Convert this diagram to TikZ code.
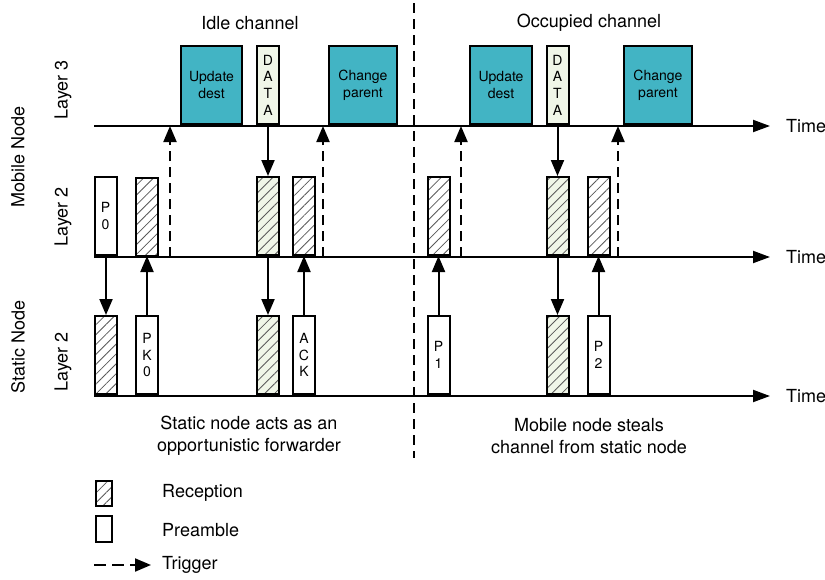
\documentclass[tikz,border=0pt]{standalone}
\usepackage{fontspec}
\setmainfont{TeX Gyre Heros}
\usepackage{xcolor}
\usepackage{tikz}
\usetikzlibrary{positioning,arrows.meta,patterns.meta}

\definecolor{taskteal}{RGB}{66,180,196}
\definecolor{datagreen}{RGB}{240,246,232}

\tikzset{
  slot/.style={draw, line width=2pt, anchor=south, minimum width=22pt, minimum height=78pt,
    inner sep=0pt, align=center, font=\fontsize{14}{16.7}\selectfont},
  preamble/.style={slot, fill=white},
  recv/.style={slot, preaction={fill=white},
    pattern={Lines[angle=45,distance=7pt,line width=0.8pt]}, pattern color=black!65},
  recvdata/.style={recv, preaction={fill=datagreen}},
  task/.style={slot, fill=taskteal},
  timeaxis/.style={line width=2pt, -{Triangle[length=17pt,width=12pt]}},
  msg/.style={line width=2pt, -{Triangle[length=16pt,width=13pt]}},
  trigger/.style={msg, dash pattern=on 10pt off 6pt},
}

\begin{document}
\begin{tikzpicture}[x=1pt,y=-1pt,font=\fontsize{18}{22}\selectfont]
\useasboundingbox (0,0) rectangle (825,579);

% Row labels
\node[rotate=90] (mobile) at (18,157) {Mobile Node};
\node[rotate=90] (static) at (18,347) {Static Node};
\node[rotate=90] (lay3) at (63,90) {Layer 3};
\node[rotate=90] (lay2m) at (63,217) {Layer 2};
\node[rotate=90] (lay2s) at (63,362) {Layer 2};

% Time axes
\coordinate (ax3) at (94,126);
\coordinate (ax2m) at (94,257);
\coordinate (ax2s) at (94,396);
\node[anchor=west, inner sep=0pt] (time3) at (786,126) {Time};
\node[anchor=west, inner sep=0pt] (time2m) at (786,257) {Time};
\node[anchor=west, inner sep=0pt] (time2s) at (786,396) {Time};
\draw[timeaxis] (ax3) -- ([xshift=-16pt]time3.west);
\draw[timeaxis] (ax2m) -- ([xshift=-16pt]time2m.west);
\draw[timeaxis] (ax2s) -- ([xshift=-16pt]time2s.west);

% Channel separator
\coordinate (septop) at (414,3);
\coordinate (sepbot) at (414,458);
\draw[line width=2pt, dash pattern=on 10pt off 6pt] (septop) -- (sepbot);

% Headings
\node (idle) at (250,23) {Idle channel};
\node (occ) at (589,23) {Occupied channel};

% Layer 3, mobile node
\node[task, minimum width=61pt] (upd1) at (211.5,125) {Update\\dest};
\node[slot, fill=datagreen] (data1) at (268,125) {D\\A\\T\\A};
\node[task, minimum width=68pt] (chg1) at (363,125) {Change\\parent};
\node[task, minimum width=62pt] (upd2) at (501,125) {Update\\dest};
\node[slot, fill=datagreen] (data2) at (557.5,125) {D\\A\\T\\A};
\node[task, minimum width=68pt] (chg2) at (658,125) {Change\\parent};

% Layer 2, mobile node
\node[preamble] (p0) at (105.5,256) {P\\0};
\node[recv] (rm1) at (147,256) {};
\node[recvdata] (rm2) at (268,256) {};
\node[recv] (rm3) at (304,256) {};
\node[recv] (rm4) at (438.5,256) {};
\node[recvdata] (rm5) at (557.5,256) {};
\node[recv] (rm6) at (598.5,256) {};

% Layer 2, static node
\node[recv] (rs1) at (106,395) {};
\node[preamble] (pk0) at (147,395) {P\\K\\0};
\node[recvdata] (rs2) at (268,395) {};
\node[preamble] (ack) at (304,395) {A\\C\\K};
\node[preamble] (p1) at (438.5,395) {P\\1};
\node[recvdata] (rs3) at (557.5,395) {};
\node[preamble] (p2) at (598.5,395) {P\\2};

% Messages between layers and nodes
\draw[msg] (data1.south) -- (rm2.north);
\draw[msg] (data2.south) -- (rm5.north);
\draw[msg] (p0.south) -- (p0.south -| rs1.north) -- (rs1.north);
\draw[msg] (pk0.north) -- (rm1.south);
\draw[msg] (rm2.south) -- (rs2.north);
\draw[msg] (ack.north) -- (rm3.south);
\draw[msg] (p1.north) -- (rm4.south);
\draw[msg] (rm5.south) -- (rs3.north);
\draw[msg] (p2.north) -- (rm6.south);

% Triggers from layer 2 to layer 3
\foreach \x [count=\i] in {170,323,461,618} {
  \coordinate (trg\i) at (\x,257);
  \draw[trigger] (trg\i) -- (trg\i |- ax3);
}

% Captions
\node[align=center] (capidle) at (249,436) {Static node acts as an\\opportunistic forwarder};
\node[align=center] (capocc) at (589,436) {Mobile node steals\\channel from static node};

% Legend
\node[recv, anchor=north west, minimum width=16pt, minimum height=25pt] (legrecv) at (95,480) {};
\node[preamble, anchor=north west, minimum width=16pt, minimum height=26pt] (legpre) at (95,515) {};
\node[anchor=west, inner sep=0pt] (txtrecv) at (162,493) {Reception};
\node[anchor=west, inner sep=0pt] (txtpre) at (162,530) {Preamble};
\node[anchor=west, inner sep=0pt] (txttrg) at (162,565) {Trigger};
\coordinate (legtrg) at (94,565);
\draw[trigger, dash pattern=on 12pt off 6pt] (legtrg) -- ([xshift=-11pt]txttrg.west);
\end{tikzpicture}
\end{document}
